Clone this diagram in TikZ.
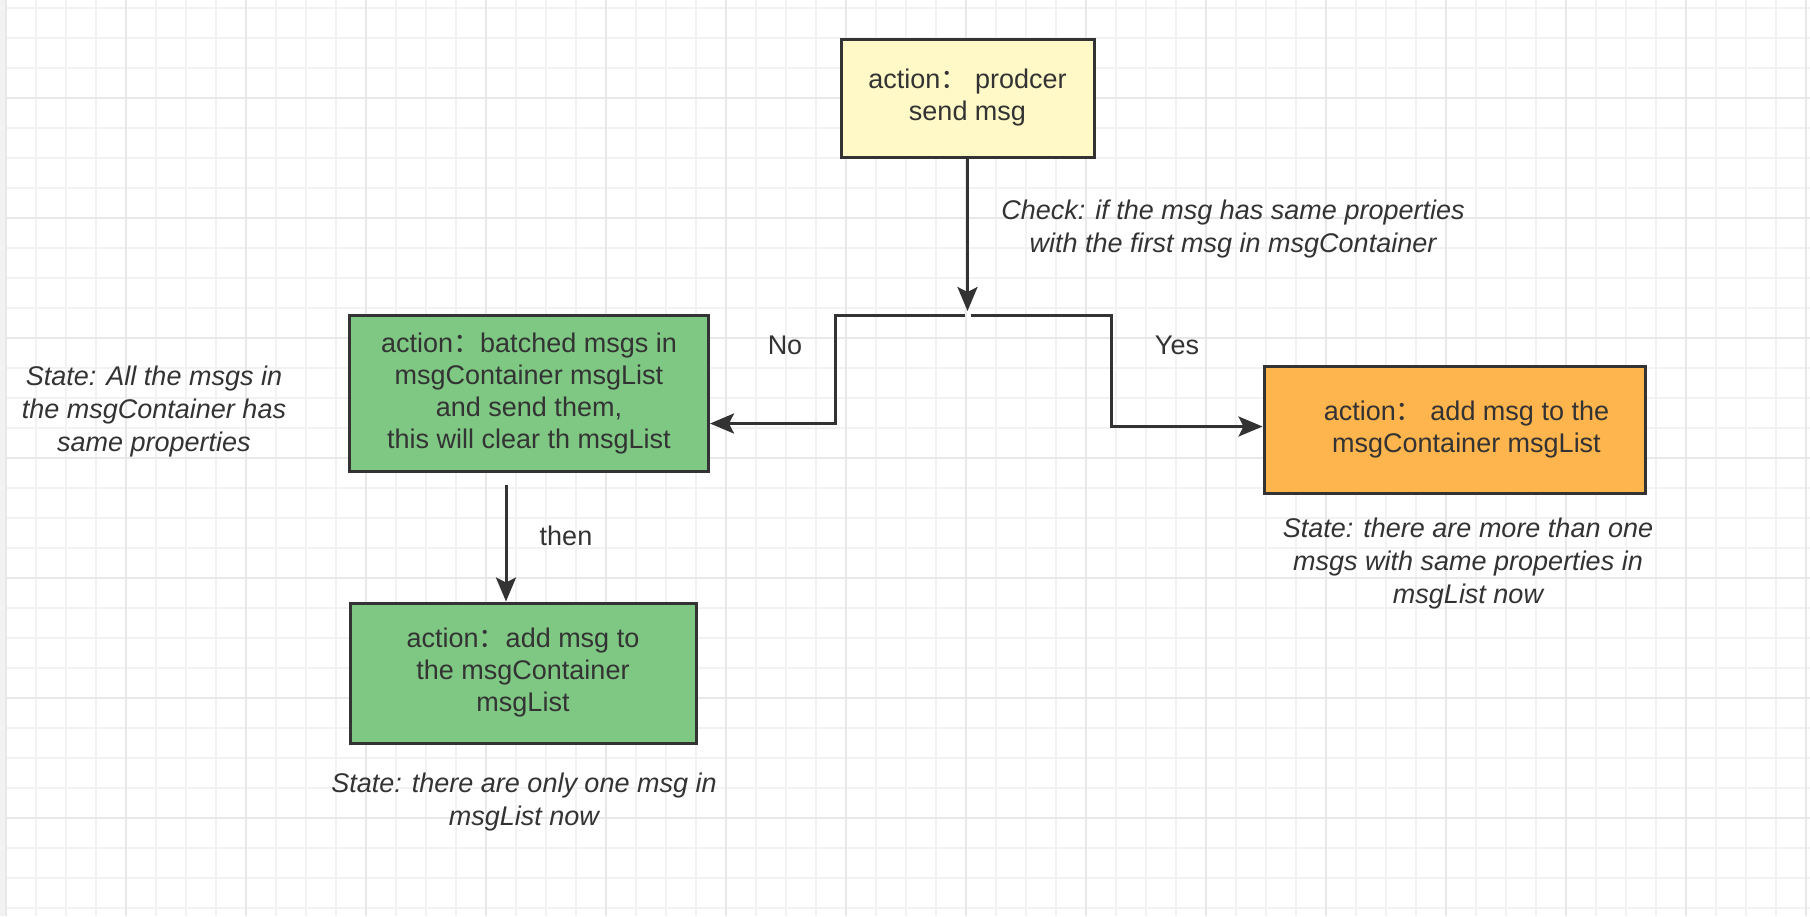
\documentclass[tikz,border=0pt]{standalone}
\usepackage{fontspec}
\setmainfont{Liberation Sans}
\newfontfamily\cjk{Noto Sans CJK SC}
\usepackage{xcolor}
\usetikzlibrary{arrows.meta,positioning,calc}

\definecolor{ink}{HTML}{333333}
\definecolor{sendfill}{HTML}{FFF9C7}
\definecolor{greenfill}{HTML}{7FC883}
\definecolor{orangefill}{HTML}{FFB54D}
\definecolor{minorgrid}{HTML}{F2F2F2}
\definecolor{majorgrid}{HTML}{E8E8E8}
\newcommand{\fcolon}{{\cjk ：}}

\begin{document}
\begin{tikzpicture}[x=0.5pt,y=-0.5pt,
  every node/.style={font=\fontsize{13.5}{16}\selectfont,text=ink},
  act/.style={rectangle,draw=ink,line width=1.5pt,align=center,inner sep=0pt},
  note/.style={align=center,font=\fontsize{13.5}{16.5}\selectfont\itshape},
  arc/.style={-{Stealth[length=12pt,width=10pt,inset=2.5pt]},draw=ink,line width=1.5pt},
  minorline/.style={draw=minorgrid,line width=1pt},
  majorline/.style={draw=majorgrid,line width=1pt}
]
\useasboundingbox (0,0) rectangle (1810,916);
\fill[white] (0,0) rectangle (1810,916);

% background grid
\foreach \gx in {36,66,...,1806} \draw[minorline] (\gx,0) -- (\gx,916);
\foreach \gy in {8,38,...,908} \draw[minorline] (6,\gy) -- (1810,\gy);
\foreach \gx in {126,246,...,1806} \draw[majorline] (\gx,0) -- (\gx,916);
\foreach \gy in {98,218,...,818} \draw[majorline] (6,\gy) -- (1810,\gy);
\fill[minorgrid] (0,0) rectangle (6,916);
\draw[majorline] (6,0) -- (6,916);

\node[act,fill=sendfill,minimum width=126.5pt,minimum height=59pt] (send) at (967.5,98)
  {action\fcolon{} prodcer\\send msg};
\node[act,fill=greenfill,minimum width=179.5pt,minimum height=78pt] (batch) at (529,393.5)
  {action\fcolon{}batched msgs in\\msgContainer msgList\\and send them,\\this will clear th msgList};
\node[act,fill=orangefill,minimum width=190.5pt,minimum height=63.5pt] (addyes) at (1454.5,429.5)
  {\hspace{12pt}action\fcolon{} add msg to the\\\hspace{12pt}msgContainer msgList};
\node[act,fill=greenfill,minimum width=173pt,minimum height=70pt] (addno) at (523,673)
  {action\fcolon{}add msg to\\the msgContainer\\msgList};

\coordinate (split) at (967.5,315);
\coordinate (nocorner) at (835,315);
\coordinate (yescorner) at (1111,315);

\draw[arc,shorten >=2pt] (send) -- (split);
\draw[arc] ([xshift=-1.5pt]split) -- (nocorner) |- ([yshift=-15pt]batch.east);
\draw[arc] ([xshift=1.5pt]split) -- (yescorner) |- ([yshift=1.5pt]addyes.west);
\draw[arc] ([xshift=-11.5pt,yshift=-6pt]batch.south) -- ([xshift=-8.5pt]addno.north);

% labels on the connectors
\node[note] (check) at (1233,229) {Check: if the msg has same properties\\with the first msg in msgContainer};
\node (nolbl) at (785,345) {No};
\node (yeslbl) at (1177,345) {Yes};
\node (thenlbl) at (566,536) {then};

% state notes
\node[note] (stateall) at (154,412) {State: All the msgs in\\the msgContainer has\\same properties};
\node[note] (statemore) at (1468,564) {State: there are more than one\\msgs with same properties in\\msgList now};
\node[note] (stateone) at (524,802) {State: there are only one msg in\\msgList now};
\end{tikzpicture}
\end{document}
